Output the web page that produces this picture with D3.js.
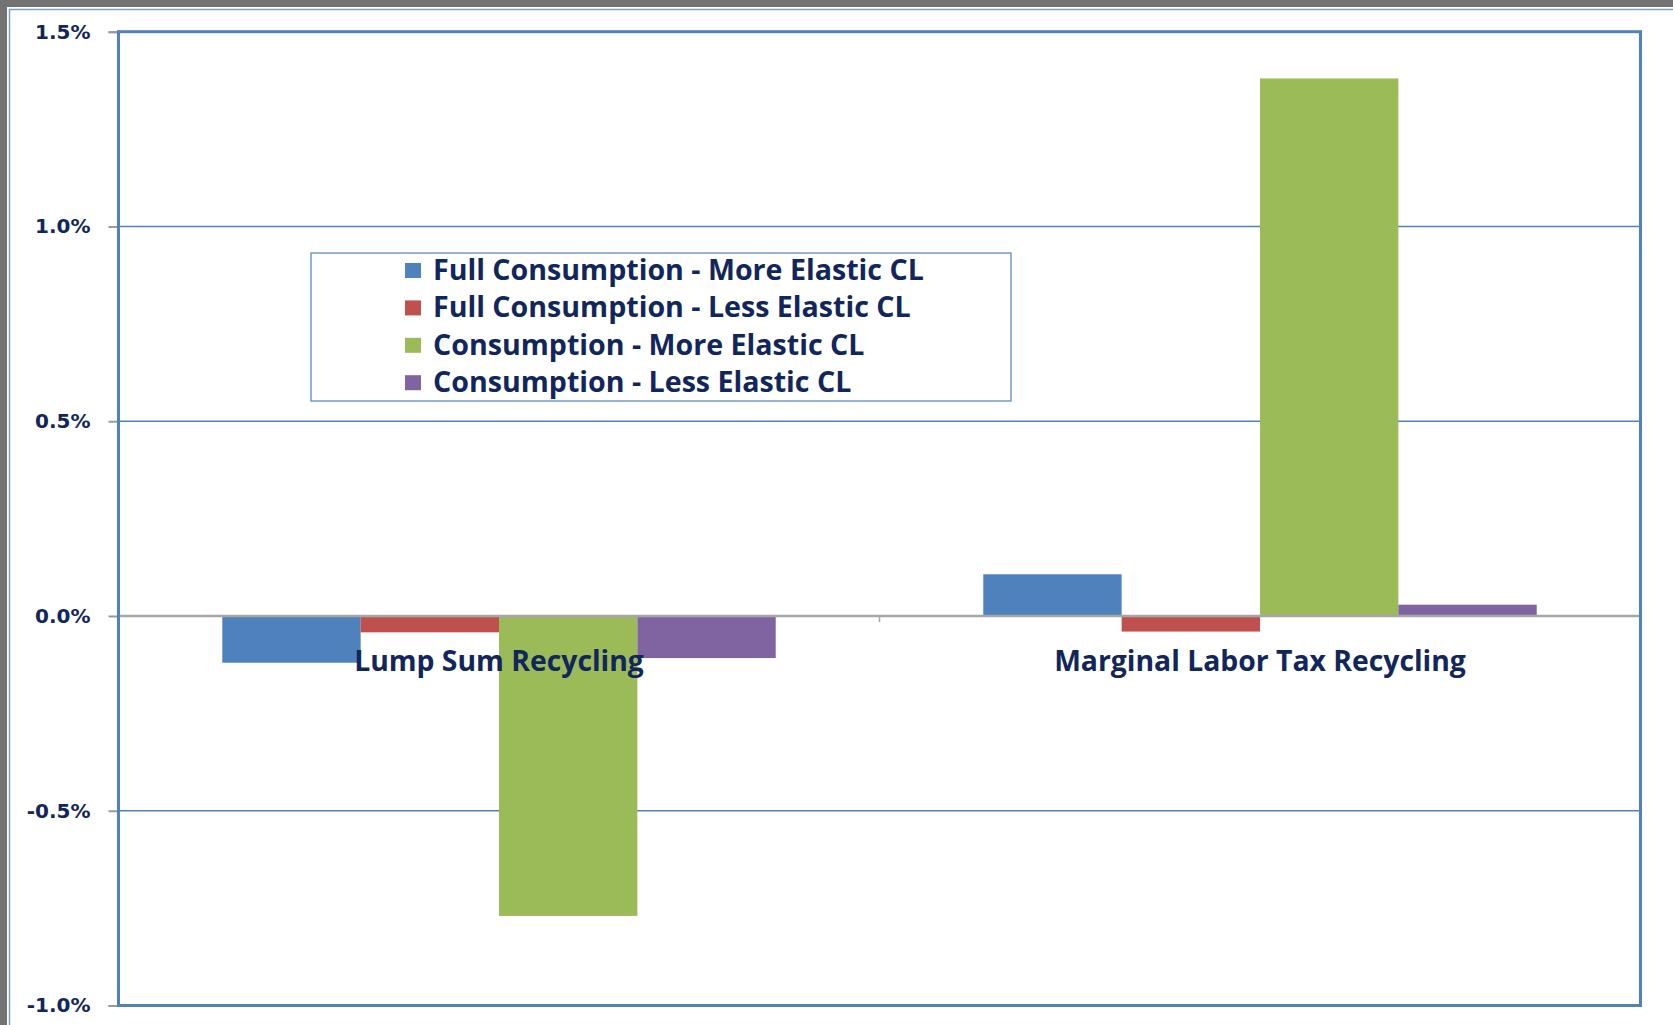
<!DOCTYPE html>
<html>
<head>
<meta charset="utf-8">
<script src="https://cdn.jsdelivr.net/npm/d3@7"></script>
<style>
  html, body { margin: 0; padding: 0; background: #737373; overflow: hidden; }
  svg { display: block; }
</style>
</head>
<body>
<script>
// Categories on the x axis
const categories = ["Lump Sum Recycling", "Marginal Labor Tax Recycling"];
// Series names shown in the legend
const seriesNames = [
  "Full Consumption - More Elastic CL",
  "Full Consumption - Less Elastic CL",
  "Consumption - More Elastic CL",
  "Consumption - Less Elastic CL"
];
// Percent change, one value per category
const fullMoreElastic = [-0.120, 0.107];
const fullLessElastic = [-0.042, -0.040];
const consMoreElastic = [-0.770, 1.380];
const consLessElastic = [-0.108, 0.029];
// Value-axis ticks
const yTicks = [-1.0, -0.5, 0.0, 0.5, 1.0, 1.5];

const seriesValues = [fullMoreElastic, fullLessElastic, consMoreElastic, consLessElastic];
const colors = ["#4f81bd", "#c0504d", "#9bbb59", "#8064a2"];

const W = 1673, H = 1025;
const plot = { left: 118.5, right: 1640.5, top: 31.7, bottom: 1005.5 };
const textColor = "#11265c";

const svg = d3.select("body").append("svg").attr("width", W).attr("height", H);

// chart area (white panel with a thin border running off the right/bottom edge)
svg.append("rect").attr("x", 7).attr("y", 7).attr("width", W).attr("height", H).attr("fill", "#fff");
svg.append("rect").attr("x", 9.5).attr("y", 9.5).attr("width", W).attr("height", H)
  .attr("fill", "none").attr("stroke", "#7aa0cf").attr("stroke-width", 1.5);

const y = d3.scaleLinear().domain([d3.min(yTicks), d3.max(yTicks)]).range([plot.bottom, plot.top]);
const x0 = d3.scaleBand().domain(categories).range([plot.left, plot.right]).padding(0);
const x1 = d3.scaleBand().domain(seriesNames).range([0, x0.bandwidth()]).paddingInner(0).paddingOuter(0.75);

// gridlines
svg.append("g").selectAll("line").data(yTicks.filter(t => t !== 0 && t !== d3.min(yTicks) && t !== d3.max(yTicks)))
  .join("line")
  .attr("x1", plot.left).attr("x2", plot.right)
  .attr("y1", d => y(d)).attr("y2", d => y(d))
  .attr("stroke", "#4f81bd").attr("stroke-width", 1.5);

// bars
const rows = categories.map((c, i) => ({ cat: c, vals: seriesNames.map((s, j) => ({ s, j, v: seriesValues[j][i] })) }));
svg.append("g").selectAll("g").data(rows).join("g")
  .attr("transform", d => `translate(${x0(d.cat)},0)`)
  .selectAll("rect").data(d => d.vals).join("rect")
  .attr("x", d => x1(d.s))
  .attr("width", x1.bandwidth())
  .attr("y", d => y(Math.max(0, d.v)))
  .attr("height", d => Math.abs(y(d.v) - y(0)))
  .attr("fill", d => colors[d.j]);

// value axis
const fmt = d => d.toFixed(1).replace("\u2212", "-") + "%";
const yAxis = svg.append("g").attr("transform", `translate(${plot.left},0)`)
  .call(d3.axisLeft(y).tickValues(yTicks).tickFormat(fmt).tickSize(10).tickPadding(18));
yAxis.select(".domain").attr("stroke", "#9a9a9a").attr("stroke-width", 2);
yAxis.selectAll(".tick line").attr("stroke", "#9a9a9a").attr("stroke-width", 2);
yAxis.selectAll(".tick text")
  .attr("fill", textColor)
  .style("font-family", "'DejaVu Sans', Verdana, sans-serif")
  .style("font-weight", "bold")
  .style("font-size", "20px");

// category axis along zero
const xAxis = svg.append("g").attr("transform", `translate(0,${y(0)})`);
xAxis.append("line").attr("x1", plot.left).attr("x2", plot.right)
  .attr("stroke", "#a6a6a6").attr("stroke-width", 2.5);
xAxis.selectAll("line.tk").data(categories.slice(1)).join("line").attr("class", "tk")
  .attr("x1", d => x0(d)).attr("x2", d => x0(d)).attr("y1", 0).attr("y2", 6)
  .attr("stroke", "#a6a6a6").attr("stroke-width", 1.5);

// font size that gives a text its target width
function fitSize(text, family, weight, target) {
  const t = svg.append("text").text(text)
    .style("font-family", family).style("font-weight", weight).style("font-size", "100px");
  const w = t.node().getComputedTextLength();
  t.remove();
  return 100 * target / w;
}
const labelFamily = "'Open Sans', 'Noto Sans', sans-serif";
const catSize = fitSize(categories[1], labelFamily, 700, 412);

svg.append("g").selectAll("text").data(categories).join("text")
  .attr("x", d => x0(d) + x0.bandwidth() / 2)
  .attr("y", 671)
  .attr("text-anchor", "middle")
  .attr("fill", textColor)
  .style("font-family", labelFamily).style("font-weight", 700)
  .style("font-size", catSize + "px")
  .text(d => d);

// plot border
svg.append("rect")
  .attr("x", plot.left).attr("y", plot.top)
  .attr("width", plot.right - plot.left).attr("height", plot.bottom - plot.top)
  .attr("fill", "none").attr("stroke", "#4f81bd").attr("stroke-width", 3);

// legend
const lg = { x: 311, y: 253, w: 700, h: 148 };
const legend = svg.append("g");
legend.append("rect").attr("x", lg.x).attr("y", lg.y).attr("width", lg.w).attr("height", lg.h)
  .attr("fill", "#fff").attr("stroke", "#4f81bd").attr("stroke-width", 1.2);
const legSize = fitSize(seriesNames[0], labelFamily, 700, 491);
const item = legend.selectAll("g").data(seriesNames).join("g")
  .attr("transform", (d, i) => `translate(405,${270.5 + i * 37.4})`);
item.append("rect").attr("x", 0).attr("y", -7.5).attr("width", 16).attr("height", 15)
  .attr("fill", (d, i) => colors[i]);
item.append("text").attr("x", 28).attr("y", 9.5)
  .attr("fill", textColor)
  .style("font-family", labelFamily).style("font-weight", 700)
  .style("font-size", legSize + "px")
  .text(d => d);
</script>
</body>
</html>
